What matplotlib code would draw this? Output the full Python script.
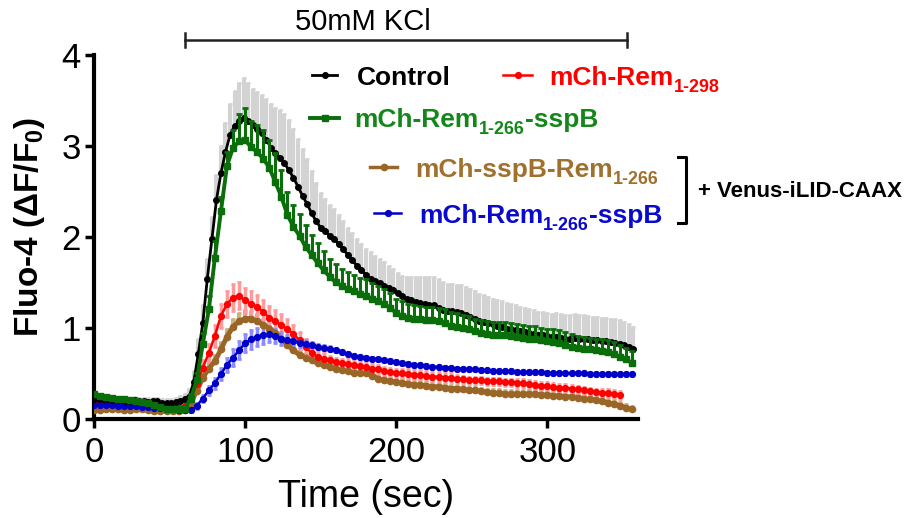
import numpy as np
import matplotlib
matplotlib.use("Agg")
import matplotlib.pyplot as plt
from matplotlib.lines import Line2D

plt.rcParams['font.family'] = ['Liberation Sans', 'DejaVu Sans']
plt.rcParams['mathtext.fontset'] = 'custom'
plt.rcParams['mathtext.rm'] = 'Liberation Sans'
plt.rcParams['mathtext.bf'] = 'Liberation Sans:bold'

# sampling grids (sec)
t_control = np.arange(0, 360, 3)
t_other = np.arange(0, 360, 4)
t_rem298 = t_other[:88]

# Control (mean, upper SEM)
control = [0.22, 0.22, 0.21, 0.21, 0.20, 0.20, 0.20, 0.19, 0.19, 0.20,
           0.19, 0.19, 0.18, 0.19, 0.19, 0.17, 0.17, 0.17, 0.18, 0.19,
           0.21, 0.24, 0.40, 0.71, 1.05, 1.54, 1.97, 2.40, 2.70, 2.93,
           3.12, 3.22, 3.27, 3.31, 3.27, 3.23, 3.19, 3.14, 3.07, 2.98,
           2.92, 2.87, 2.81, 2.73, 2.65, 2.55, 2.45, 2.36, 2.26, 2.17,
           2.10, 2.06, 2.01, 1.97, 1.92, 1.86, 1.80, 1.74, 1.68, 1.63,
           1.58, 1.54, 1.51, 1.49, 1.46, 1.44, 1.41, 1.38, 1.35, 1.32,
           1.30, 1.28, 1.27, 1.26, 1.25, 1.25, 1.22, 1.19, 1.18, 1.18,
           1.17, 1.16, 1.14, 1.12, 1.09, 1.07, 1.06, 1.05, 1.04, 1.02,
           1.01, 0.99, 0.98, 0.97, 0.96, 0.95, 0.94, 0.93, 0.92, 0.92,
           0.91, 0.90, 0.90, 0.89, 0.88, 0.88, 0.89, 0.88, 0.88, 0.87,
           0.86, 0.86, 0.85, 0.85, 0.84, 0.83, 0.82, 0.81, 0.79, 0.76]
control_err = [0.04, 0.04, 0.04, 0.04, 0.04, 0.04, 0.04, 0.04, 0.04, 0.04,
               0.04, 0.04, 0.05, 0.04, 0.04, 0.05, 0.05, 0.05, 0.05, 0.06,
               0.06, 0.08, 0.12, 0.16, 0.20, 0.22, 0.25, 0.28, 0.30, 0.32,
               0.34, 0.38, 0.42, 0.44, 0.42, 0.40, 0.40, 0.42, 0.45, 0.48,
               0.50, 0.52, 0.54, 0.55, 0.54, 0.53, 0.52, 0.50, 0.46, 0.42,
               0.38, 0.36, 0.34, 0.33, 0.32, 0.31, 0.30, 0.30, 0.30, 0.29,
               0.29, 0.29, 0.28, 0.27, 0.26, 0.24, 0.23, 0.22, 0.22, 0.24,
               0.26, 0.28, 0.29, 0.30, 0.31, 0.31, 0.31, 0.31, 0.30, 0.30,
               0.30, 0.31, 0.31, 0.31, 0.31, 0.30, 0.30, 0.29, 0.28, 0.28,
               0.28, 0.28, 0.28, 0.28, 0.27, 0.27, 0.26, 0.26, 0.25, 0.25,
               0.25, 0.25, 0.26, 0.26, 0.26, 0.26, 0.26, 0.26, 0.26, 0.26,
               0.26, 0.26, 0.26, 0.26, 0.26, 0.26, 0.26, 0.25, 0.25, 0.25]

# mCh-Rem1-266-sspB (no iLID)
rem266 = [0.27, 0.25, 0.24, 0.23, 0.22, 0.21, 0.20, 0.19, 0.18, 0.17,
          0.15, 0.13, 0.11, 0.10, 0.10, 0.11, 0.22, 0.42, 0.82, 1.20,
          1.77, 2.28, 2.78, 2.98, 3.05, 3.06, 2.99, 2.93, 2.86, 2.76,
          2.60, 2.44, 2.24, 2.11, 2.01, 1.89, 1.80, 1.71, 1.63, 1.56,
          1.50, 1.46, 1.42, 1.40, 1.37, 1.35, 1.32, 1.29, 1.26, 1.22,
          1.16, 1.13, 1.11, 1.10, 1.09, 1.08, 1.08, 1.07, 1.05, 1.02,
          1.01, 1.00, 0.99, 0.96, 0.94, 0.93, 0.92, 0.92, 0.92, 0.91,
          0.90, 0.89, 0.88, 0.88, 0.86, 0.85, 0.84, 0.83, 0.81, 0.79,
          0.78, 0.77, 0.76, 0.75, 0.74, 0.73, 0.71, 0.68, 0.65, 0.61]
rem266_err = [0.02, 0.02, 0.02, 0.02, 0.02, 0.02, 0.02, 0.02, 0.02, 0.02,
              0.02, 0.02, 0.02, 0.02, 0.02, 0.03, 0.05, 0.08, 0.12, 0.15,
              0.18, 0.16, 0.15, 0.20, 0.30, 0.36, 0.28, 0.30, 0.32, 0.30,
              0.32, 0.30, 0.25, 0.24, 0.24, 0.24, 0.22, 0.22, 0.21, 0.20,
              0.20, 0.19, 0.19, 0.18, 0.18, 0.18, 0.17, 0.17, 0.16, 0.16,
              0.16, 0.16, 0.15, 0.15, 0.15, 0.15, 0.15, 0.15, 0.15, 0.15,
              0.15, 0.14, 0.14, 0.14, 0.14, 0.14, 0.14, 0.14, 0.14, 0.14,
              0.14, 0.14, 0.14, 0.14, 0.14, 0.14, 0.14, 0.14, 0.14, 0.14,
              0.13, 0.13, 0.13, 0.13, 0.13, 0.13, 0.13, 0.13, 0.13, 0.13]

# mCh-Rem1-298
rem298 = [0.19, 0.18, 0.18, 0.17, 0.17, 0.16, 0.16, 0.15, 0.15, 0.14,
          0.14, 0.13, 0.12, 0.12, 0.12, 0.14, 0.22, 0.38, 0.56, 0.72,
          0.91, 1.13, 1.26, 1.33, 1.35, 1.30, 1.26, 1.23, 1.17, 1.11,
          1.07, 1.03, 0.98, 0.93, 0.86, 0.79, 0.72, 0.68, 0.66, 0.64,
          0.62, 0.61, 0.60, 0.59, 0.58, 0.57, 0.55, 0.54, 0.52, 0.51,
          0.50, 0.50, 0.49, 0.48, 0.48, 0.47, 0.46, 0.46, 0.45, 0.45,
          0.44, 0.43, 0.42, 0.42, 0.42, 0.41, 0.41, 0.41, 0.40, 0.40,
          0.39, 0.39, 0.38, 0.37, 0.36, 0.36, 0.35, 0.34, 0.34, 0.33,
          0.32, 0.31, 0.30, 0.29, 0.28, 0.28, 0.27, 0.26]
rem298_err = [0.02, 0.02, 0.02, 0.02, 0.02, 0.02, 0.02, 0.02, 0.02, 0.02,
              0.02, 0.02, 0.02, 0.02, 0.02, 0.03, 0.04, 0.06, 0.08, 0.10,
              0.12, 0.13, 0.14, 0.15, 0.15, 0.14, 0.14, 0.13, 0.13, 0.13,
              0.12, 0.12, 0.11, 0.10, 0.09, 0.08, 0.07, 0.06, 0.06, 0.05,
              0.05, 0.05, 0.05, 0.05, 0.05, 0.05, 0.05, 0.05, 0.05, 0.05,
              0.05, 0.05, 0.05, 0.05, 0.05, 0.05, 0.05, 0.05, 0.05, 0.05,
              0.04, 0.04, 0.04, 0.04, 0.04, 0.04, 0.04, 0.04, 0.04, 0.04,
              0.04, 0.04, 0.04, 0.04, 0.04, 0.04, 0.04, 0.04, 0.04, 0.04,
              0.04, 0.04, 0.04, 0.04, 0.04, 0.04, 0.04, 0.04]

# mCh-sspB-Rem1-266 + Venus-iLID-CAAX
sspb_rem = [0.09, 0.09, 0.10, 0.10, 0.10, 0.09, 0.09, 0.10, 0.10, 0.09,
            0.08, 0.08, 0.08, 0.08, 0.08, 0.09, 0.17, 0.30, 0.45, 0.55,
            0.63, 0.76, 0.90, 1.01, 1.07, 1.10, 1.10, 1.07, 1.03, 0.99,
            0.94, 0.88, 0.81, 0.75, 0.70, 0.67, 0.64, 0.61, 0.59, 0.57,
            0.55, 0.53, 0.52, 0.50, 0.50, 0.50, 0.47, 0.44, 0.42, 0.41,
            0.40, 0.39, 0.38, 0.37, 0.37, 0.36, 0.35, 0.35, 0.34, 0.33,
            0.33, 0.32, 0.31, 0.31, 0.30, 0.29, 0.28, 0.28, 0.27, 0.27,
            0.27, 0.27, 0.27, 0.27, 0.26, 0.26, 0.25, 0.25, 0.24, 0.24,
            0.23, 0.22, 0.21, 0.20, 0.19, 0.17, 0.16, 0.14, 0.12, 0.10]
sspb_rem_err = [0.02, 0.02, 0.02, 0.02, 0.02, 0.02, 0.02, 0.02, 0.02, 0.02,
                0.02, 0.02, 0.02, 0.02, 0.02, 0.02, 0.03, 0.04, 0.05, 0.06,
                0.07, 0.08, 0.08, 0.08, 0.09, 0.09, 0.08, 0.08, 0.07, 0.07,
                0.06, 0.06, 0.05, 0.05, 0.05, 0.05, 0.04, 0.04, 0.04, 0.04,
                0.04, 0.04, 0.04, 0.04, 0.04, 0.04, 0.04, 0.04, 0.04, 0.04,
                0.04, 0.04, 0.04, 0.04, 0.04, 0.04, 0.04, 0.04, 0.04, 0.04,
                0.04, 0.04, 0.04, 0.04, 0.04, 0.04, 0.04, 0.04, 0.04, 0.04,
                0.04, 0.04, 0.04, 0.04, 0.04, 0.04, 0.04, 0.04, 0.04, 0.04,
                0.04, 0.04, 0.04, 0.04, 0.04, 0.04, 0.04, 0.04, 0.04, 0.04]

# mCh-Rem1-266-sspB + Venus-iLID-CAAX
rem_sspb = [0.15, 0.15, 0.15, 0.15, 0.14, 0.14, 0.14, 0.14, 0.13, 0.13,
            0.12, 0.12, 0.11, 0.10, 0.09, 0.09, 0.09, 0.14, 0.22, 0.31,
            0.39, 0.49, 0.59, 0.67, 0.75, 0.83, 0.87, 0.90, 0.92, 0.93,
            0.91, 0.88, 0.86, 0.85, 0.83, 0.82, 0.81, 0.79, 0.78, 0.77,
            0.75, 0.73, 0.71, 0.69, 0.68, 0.67, 0.66, 0.65, 0.64, 0.63,
            0.62, 0.61, 0.60, 0.59, 0.59, 0.58, 0.57, 0.57, 0.56, 0.56,
            0.55, 0.55, 0.54, 0.54, 0.53, 0.53, 0.52, 0.52, 0.52, 0.52,
            0.51, 0.51, 0.51, 0.51, 0.51, 0.50, 0.50, 0.50, 0.50, 0.50,
            0.50, 0.50, 0.49, 0.49, 0.49, 0.49, 0.49, 0.49, 0.49, 0.49]
rem_sspb_err = [0.02, 0.02, 0.02, 0.02, 0.02, 0.02, 0.02, 0.02, 0.02, 0.02,
                0.02, 0.02, 0.02, 0.02, 0.02, 0.02, 0.02, 0.03, 0.04, 0.05,
                0.06, 0.07, 0.08, 0.09, 0.10, 0.10, 0.10, 0.10, 0.10, 0.09,
                0.08, 0.07, 0.06, 0.05, 0.04, 0.04, 0.03, 0.03, 0.03, 0.03,
                0.02, 0.02, 0.02, 0.02, 0.02, 0.02, 0.02, 0.02, 0.02, 0.02,
                0.02, 0.02, 0.02, 0.02, 0.02, 0.02, 0.02, 0.02, 0.02, 0.02,
                0.02, 0.02, 0.02, 0.02, 0.02, 0.02, 0.02, 0.02, 0.02, 0.02,
                0.02, 0.02, 0.02, 0.02, 0.02, 0.02, 0.02, 0.02, 0.02, 0.02,
                0.02, 0.02, 0.02, 0.02, 0.02, 0.02, 0.02, 0.02, 0.02, 0.02]

kcl_window = (60, 353)

W, H = 911, 518
fig = plt.figure(figsize=(W / 100, H / 100), dpi=100)
ax = fig.add_axes([94 / W, 1 - 418.5 / H, (638 - 94) / W, (418.5 - 55) / H])


def up_only(err):
    return [np.zeros(len(err)), err]


# error bars first
ax.errorbar(t_control, control, yerr=up_only(control_err), fmt='none',
            ecolor='#d3d3d3', elinewidth=3, capsize=1.5, capthick=2, zorder=1)
ax.errorbar(t_other, sspb_rem, yerr=up_only(sspb_rem_err), fmt='none',
            ecolor='#c9b27c', elinewidth=3, capsize=1.5, capthick=2, zorder=2)
ax.errorbar(t_rem298, rem298, yerr=rem298_err, fmt='none',
            ecolor='#ff9a9a', elinewidth=2.5, capsize=1.5, capthick=2, zorder=2)
ax.errorbar(t_other, rem_sspb, yerr=rem_sspb_err, fmt='none',
            ecolor='#8c8cff', elinewidth=2.5, capsize=1.5, capthick=2, zorder=2)

# lines
ax.plot(t_other, sspb_rem, color='#996628', lw=3.5, marker='o', ms=4.5, zorder=3)
ax.plot(t_rem298, rem298, color='#ff0000', lw=1.8, marker='o', ms=4.2, zorder=3.5)
ax.plot(t_other, rem_sspb, color='#0000c8', lw=1.8, marker='o', ms=4.2, zorder=3.8)
ax.plot(t_control, control, color='black', lw=2, marker='o', ms=4, zorder=5)
ax.errorbar(t_other, rem266, yerr=up_only(rem266_err), fmt='none',
            ecolor='#0a6e0a', elinewidth=2.2, capsize=2.5, capthick=2, zorder=6)
ax.plot(t_other, rem266, color='#0a6e0a', lw=2.8, marker='s', ms=3.8, zorder=6)

ax.set_xlim(0, 360)
ax.set_ylim(0, 4)
ax.set_xticks([0, 100, 200, 300])
ax.set_yticks([0, 1, 2, 3, 4])
for s in ['top', 'right']:
    ax.spines[s].set_visible(False)
for s in ['left', 'bottom']:
    ax.spines[s].set_linewidth(3)
ax.tick_params(width=2.5, length=6.5, labelsize=25)
ax.tick_params(axis='x', pad=6)
ax.tick_params(axis='y', pad=3)
ax.set_xlabel('Time (sec)', fontsize=27, labelpad=7)
ax.set_ylabel(r'Fluo-4 (ΔF/$\mathbf{F_0}$)', fontsize=24, fontweight='bold')
ax.yaxis.set_label_coords(-0.087, 0.527)

# KCl bar
kx0, kx1 = kcl_window
ax.plot([kx0, kx1], [4.168, 4.168], color='#222222', lw=1.8, clip_on=False)
for kx in kcl_window:
    ax.plot([kx, kx], [4.09, 4.245], color='#222222', lw=1.8, clip_on=False)
ax.text(178, 4.28, '50mM KCl', fontsize=21, ha='center', va='baseline')


# legend drawn by hand in pixel positions
def fx(x):
    return x / W


def fy(y):
    return 1 - y / H


renderer = fig.canvas.get_renderer()


def rich(x, y, parts, color, size):
    for s, sub in parts:
        if sub:
            t = fig.text(fx(x), fy(y + 0.26 * size * 100 / 72), s, fontsize=size * 0.68,
                         fontweight='bold', color=color, va='baseline')
        else:
            t = fig.text(fx(x), fy(y), s, fontsize=size, fontweight='bold',
                         color=color, va='baseline')
        x = t.get_window_extent(renderer).x1


def handle(x0, x1, y, color, lw, marker, ms):
    fig.add_artist(Line2D([fx(x0), fx(x1)], [fy(y), fy(y)], color=color, lw=lw))
    fig.add_artist(Line2D([fx((x0 + x1) / 2)], [fy(y)], color=color, marker=marker, ms=ms))


LS = 19
handle(312, 337, 75, 'black', 2, 'o', 4)
rich(356.5, 85, [('Control', False)], 'black', LS)
handle(503, 532, 75, '#ff0000', 1.8, 'o', 4.2)
rich(549.5, 85, [('mCh-Rem', False), ('1-298', True)], '#ff0000', LS)
handle(310, 339, 118.3, '#0a6e0a', 2.8, 's', 3.8)
rich(354.5, 127, [('mCh-Rem', False), ('1-266', True), ('-sspB', False)], '#14871a', LS)
handle(370, 397, 166.7, '#996628', 2.5, 'o', 4.5)
rich(415, 177, [('mCh-sspB-Rem', False), ('1-266', True)], '#a0712e', LS)
handle(374, 401, 213.3, '#0000c8', 1.8, 'o', 4.2)
rich(419, 223, [('mCh-Rem', False), ('1-266', True), ('-sspB', False)], '#0a0acd', LS)

# bracket
fig.add_artist(Line2D([fx(678), fx(686), fx(686), fx(678)],
                      [fy(157), fy(157), fy(223), fy(223)], color='black', lw=2.2))
fig.text(fx(697.5), fy(197), '+ Venus-iLID-CAAX', fontsize=16, fontweight='bold',
         va='baseline')

fig.savefig('out.png', dpi=100)
